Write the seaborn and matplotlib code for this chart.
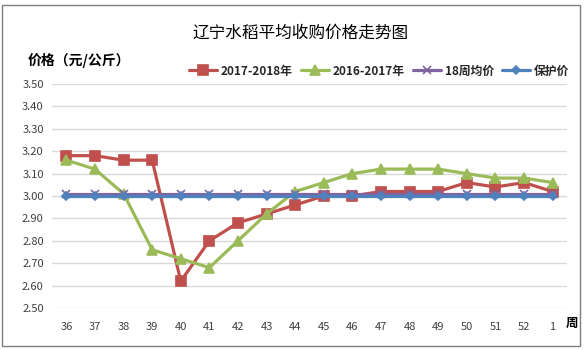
import matplotlib
matplotlib.use("Agg")
import matplotlib.pyplot as plt
from matplotlib.patches import Rectangle
import seaborn as sns
import pandas as pd

weeks = ["36", "37", "38", "39", "40", "41", "42", "43", "44", "45",
         "46", "47", "48", "49", "50", "51", "52", "1"]
price_2017_2018 = [3.18, 3.18, 3.16, 3.16, 2.62, 2.80, 2.88, 2.92, 2.96, 3.00,
                   3.00, 3.02, 3.02, 3.02, 3.06, 3.04, 3.06, 3.02]
price_2016_2017 = [3.16, 3.12, 3.01, 2.76, 2.72, 2.68, 2.80, 2.92, 3.02, 3.06,
                   3.10, 3.12, 3.12, 3.12, 3.10, 3.08, 3.08, 3.06]
avg_18_weeks = [3.01] * 18
support_price = [3.00] * 18
series_names = ["2017-2018年", "2016-2017年", "18周均价", "保护价"]
y_ticks = [2.50, 2.60, 2.70, 2.80, 2.90, 3.00, 3.10, 3.20, 3.30, 3.40, 3.50]

sns.set_theme(style="white")
plt.rcParams["font.family"] = ["Noto Sans CJK SC", "DejaVu Sans"]

pos = list(range(len(weeks)))
frames = []
for name, vals in zip(series_names,
                      [price_2017_2018, price_2016_2017, avg_18_weeks, support_price]):
    frames.append(pd.DataFrame({"pos": pos, "price": vals, "series": name}))
df = pd.concat(frames, ignore_index=True)

palette = {"2017-2018年": "#C0504D", "2016-2017年": "#9BBB59",
           "18周均价": "#8064A2", "保护价": "#4F81BD"}
markers = {"2017-2018年": "s", "2016-2017年": "^", "18周均价": "x", "保护价": "D"}
msizes = {"2017-2018年": 6.5, "2016-2017年": 6.5, "18周均价": 6, "保护价": 4.5}

fig = plt.figure(figsize=(5.85, 3.5), dpi=100)
fig.patches.append(Rectangle((0.004, 0.012), 0.988, 0.974, transform=fig.transFigure,
                             fill=False, edgecolor="#7f7f7f", linewidth=1.0))
ax = fig.add_axes([0.089, 0.12, 0.88, 0.64])

for name in series_names:
    sub = df[df["series"] == name]
    sns.lineplot(data=sub, x="pos", y="price", ax=ax, color=palette[name],
                 marker=markers[name], markersize=msizes[name], linewidth=2.3,
                 markeredgecolor=palette[name], markeredgewidth=1.2,
                 label=name, legend=False)

ax.set_xlim(-0.5, len(weeks) - 0.5)
ax.set_ylim(2.50, 3.50)
ax.set_yticks(y_ticks)
ax.set_yticklabels([f"{v:.2f}" for v in y_ticks], fontsize=8, color="#404040")
ax.set_xticks(pos)
ax.set_xticklabels(weeks, fontsize=8, color="#404040")
ax.tick_params(axis="both", length=0, pad=6)
ax.tick_params(axis="x", pad=10)
ax.grid(axis="y", color="#d9d9d9", linewidth=1.0)
ax.set_axisbelow(True)
for s in ax.spines.values():
    s.set_visible(False)
ax.set_xlabel("")
ax.set_ylabel("")

fig.text(0.513, 0.905, "辽宁水稻平均收购价格走势图", ha="center", va="center",
         fontsize=12, color="#000000")
fig.text(0.048, 0.828, "价格（元/公斤）", ha="left", va="center",
         fontsize=10, fontweight="bold", color="#000000")
fig.text(0.978, 0.077, "周", ha="center", va="center", fontsize=9,
         fontweight="bold", color="#000000")

handles, labels = ax.get_legend_handles_labels()
leg = fig.legend(handles, labels, loc="center right", bbox_to_anchor=(0.985, 0.797),
                 ncol=4, frameon=False, fontsize=8.5, handlelength=2.4,
                 handletextpad=0.3, columnspacing=0.7, borderpad=0.1)
for t in leg.get_texts():
    t.set_fontweight("bold")

fig.savefig("out.png", dpi=100)
